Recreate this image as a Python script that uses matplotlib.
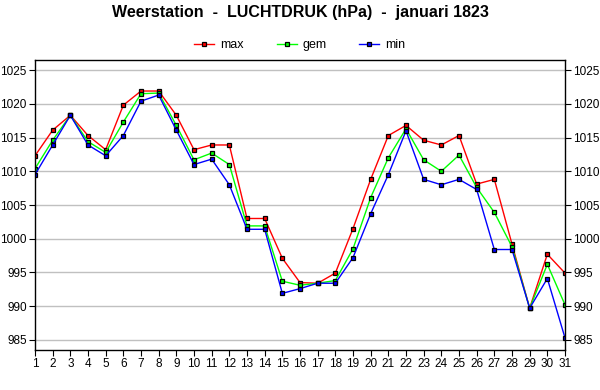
import matplotlib
matplotlib.use("Agg")
import matplotlib.pyplot as plt

dagen = list(range(1, 32))
maxi = [1012.3, 1016.1, 1018.3, 1015.3, 1013.2, 1019.8, 1021.9, 1021.9, 1018.3, 1013.2,
        1013.9, 1013.9, 1003.0, 1003.0, 997.1, 993.5, 993.4, 994.9, 1001.5, 1008.8,
        1015.3, 1016.8, 1014.6, 1013.9, 1015.3, 1008.1, 1008.8, 999.2, 989.7, 997.7, 994.9]
gem = [1010.4, 1014.6, 1018.3, 1014.4, 1012.8, 1017.3, 1021.5, 1021.6, 1016.8, 1011.7,
       1012.7, 1011.0, 1001.9, 1001.9, 993.7, 993.1, 993.4, 993.8, 998.5, 1006.1,
       1012.0, 1016.3, 1011.7, 1010.0, 1012.4, 1007.6, 1003.9, 998.8, 989.7, 996.2, 990.2]
mini = [1009.5, 1013.9, 1018.3, 1013.9, 1012.3, 1015.3, 1020.4, 1021.3, 1016.1, 1011.0,
        1011.8, 1008.0, 1001.4, 1001.4, 991.9, 992.6, 993.4, 993.4, 997.2, 1003.7,
        1009.5, 1016.0, 1008.8, 1008.0, 1008.8, 1007.3, 998.4, 998.4, 989.7, 994.1, 985.3]
yticks = [985, 990, 995, 1000, 1005, 1010, 1015, 1020, 1025]

plt.rcParams['font.family'] = ['Liberation Sans', 'DejaVu Sans']

fig = plt.figure(figsize=(6, 3.9), dpi=100)
ax = fig.add_axes([35/600, 1-350/390, 530/600, 290/390])

for waarden, kleur, naam in [(maxi, '#ff0000', 'max'), (gem, '#00ff00', 'gem'), (mini, '#0000ff', 'min')]:
    ax.plot(dagen, waarden, color=kleur, lw=1.0, marker='s', markersize=3.2,
            markerfacecolor=kleur, markeredgecolor='black', markeredgewidth=0.9, label=naam)

ax.set_xlim(1, 31)
ax.set_ylim(983.5, 1026.5)
ax.set_xticks(dagen)
ax.set_yticks(yticks)
ax.grid(True, axis='y', color='#c0c0c0', lw=1)
ax.set_axisbelow(True)
ax.tick_params(axis='y', which='both', left=True, right=True, labelleft=True, labelright=True,
               direction='out', length=4, labelsize=8.5, pad=2)
ax.tick_params(axis='x', direction='out', length=4, labelsize=8.5, pad=2)
for s in ax.spines.values():
    s.set_linewidth(1)

fig.suptitle('Weerstation  -  LUCHTDRUK (hPa)  -  januari 1823', y=1-12/390, va='center',
             fontsize=11.5, fontweight='bold')
fig.legend(loc='center', bbox_to_anchor=(0.5, 1-45/390), ncol=3, frameon=False,
           fontsize=9, handlelength=1.6, columnspacing=2.6, handletextpad=0.5)

fig.savefig('out.png', dpi=100)
